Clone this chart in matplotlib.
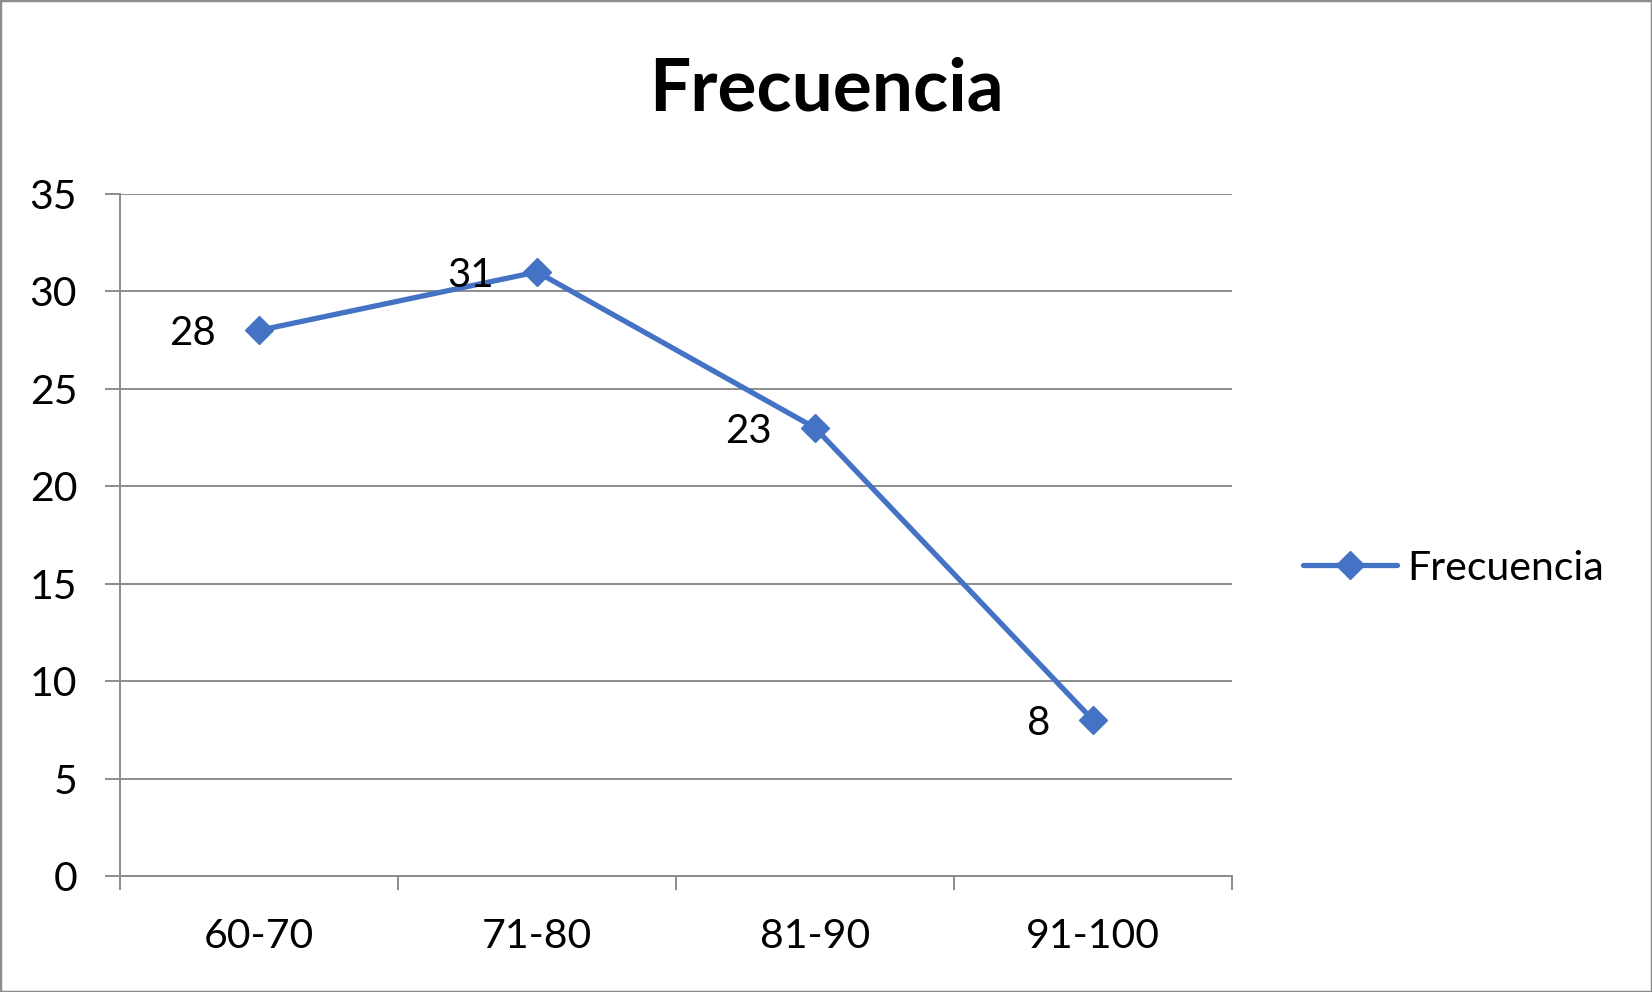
import matplotlib.pyplot as plt
from matplotlib.patches import Rectangle

categories = ["60-70", "71-80", "81-90", "91-100"]
frecuencia = [28, 31, 23, 8]
y_ticks = [0, 5, 10, 15, 20, 25, 30, 35]

plt.rcParams["font.family"] = ["Lato", "DejaVu Sans"]
blue = "#4472C4"
grey = "#8c8c8c"

fig = plt.figure(figsize=(16.52, 9.92), dpi=100)
ax = fig.add_axes([120 / 1652, 1 - 876 / 992, 1112 / 1652, 682 / 992])

x = list(range(len(categories)))
ax.plot(x, frecuencia, color=blue, linewidth=3.8, marker="D", markersize=14,
        label="Frecuencia", solid_capstyle="round")

for xi, v in zip(x, frecuencia):
    ax.annotate(str(v), (xi, v), xytext=(-31, -2.5), textcoords="offset points",
                ha="right", va="center", fontsize=29)

ax.set_xlim(-0.5, len(categories) - 0.5)
ax.set_ylim(0, 35)
ax.set_yticks(y_ticks)
ax.set_xticks(x)
ax.set_xticklabels(categories)
ax.set_xticks([i - 0.5 for i in range(len(categories) + 1)], minor=True)

ax.yaxis.grid(True, color=grey, linewidth=1.4)
ax.set_axisbelow(True)
ax.tick_params(axis="y", length=10.8, width=1.4, color=grey, pad=20, labelsize=29.5)
ax.tick_params(axis="x", which="major", length=0, pad=30, labelsize=29.5)
ax.tick_params(axis="x", which="minor", length=10, width=1.4, color=grey)

for s in ["top", "right"]:
    ax.spines[s].set_visible(False)
for s in ["left", "bottom"]:
    ax.spines[s].set_color(grey)
    ax.spines[s].set_linewidth(1.4)

fig.text(0.5, 1 - 90 / 992, "Frecuencia", ha="center", va="center",
         fontsize=52.5, fontweight="bold")

ax.legend(loc="center left", bbox_to_anchor=(1303 / 1652, 1 - 568 / 992),
          bbox_transform=fig.transFigure, frameon=False, fontsize=29.5,
          borderpad=0, borderaxespad=0, handlelength=2.3, handletextpad=0.25)

fig.patches.append(Rectangle((0, 0), 1, 1, transform=fig.transFigure,
                             fill=False, edgecolor=grey, linewidth=2.5))

plt.savefig("out.png", dpi=100)
